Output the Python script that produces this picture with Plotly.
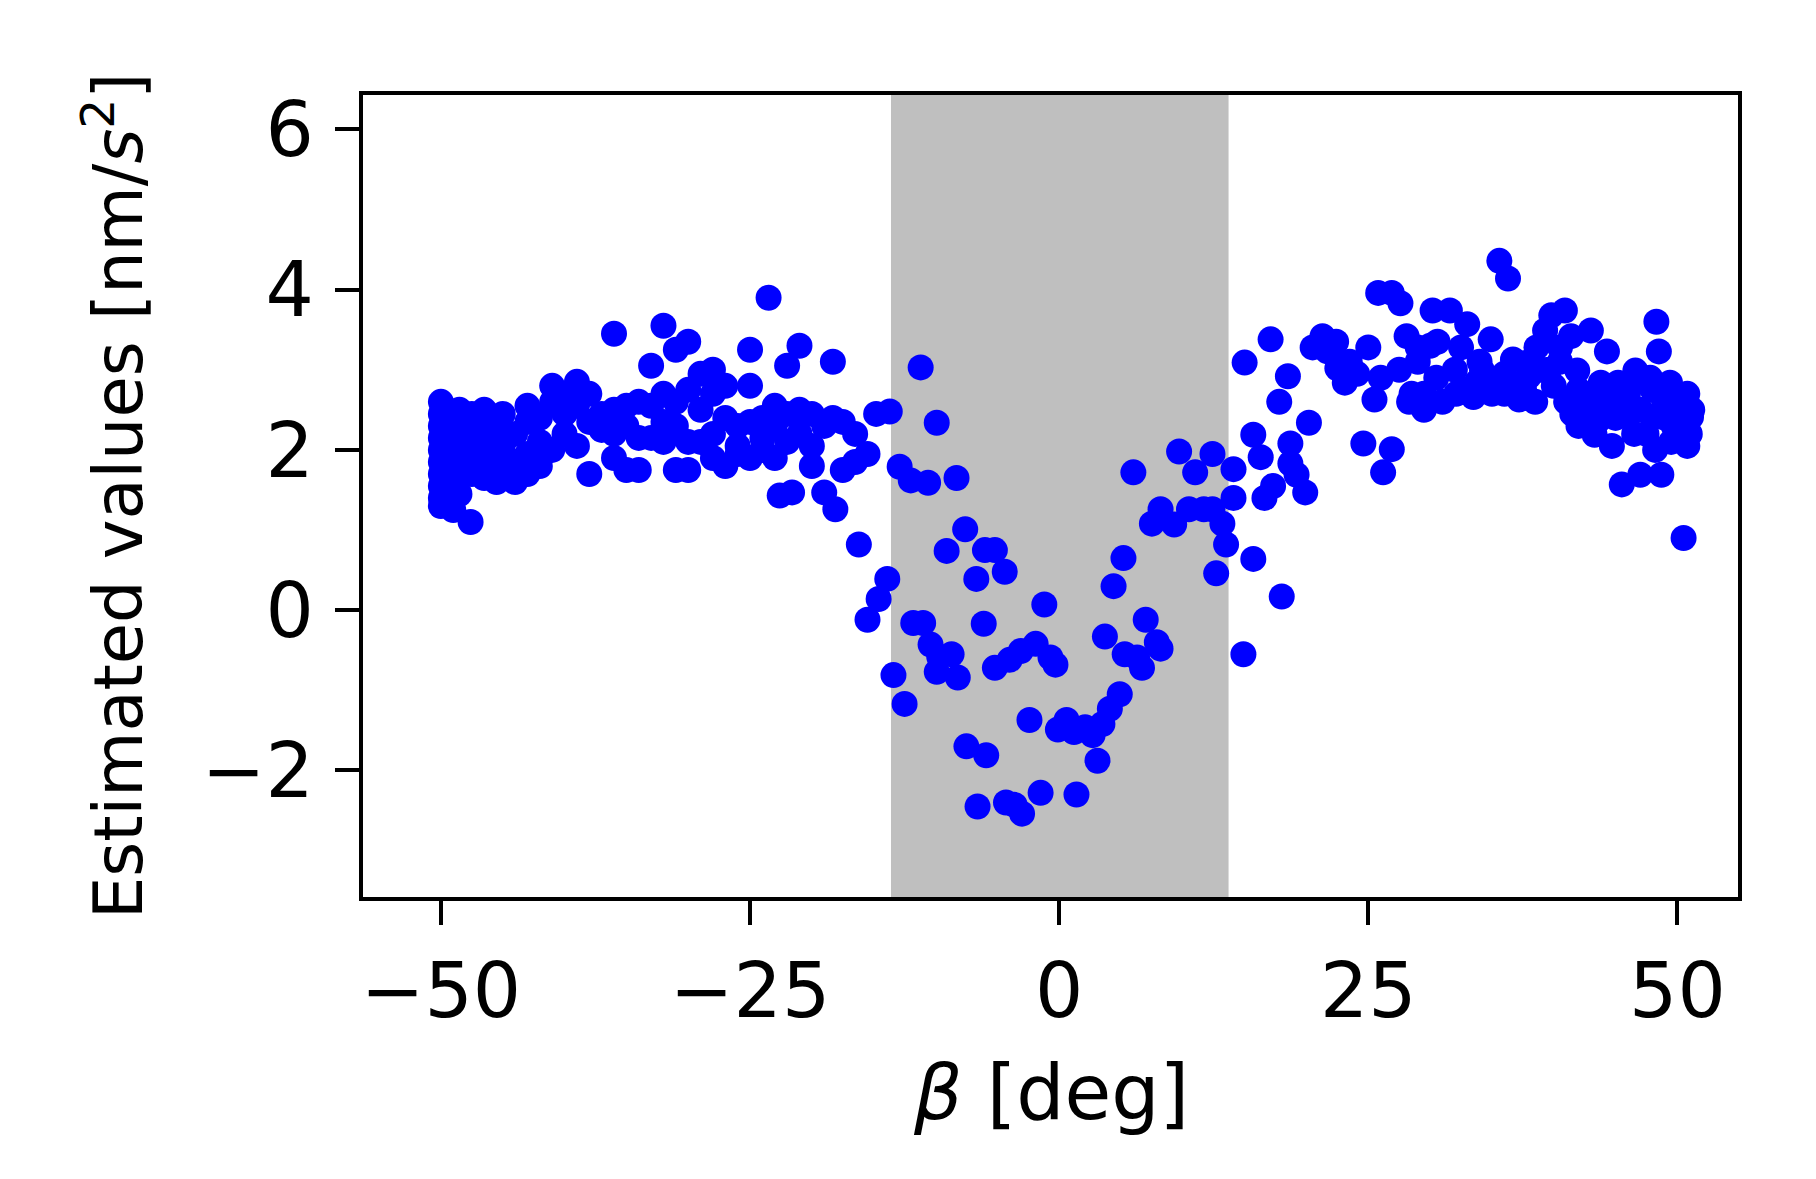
import plotly.graph_objects as go

# ---- data ----
beta_left = [
    -50, -50, -50, -50, -50, -50, -50, -50, -50, -50,
    -49.5, -49.5, -49.5, -49.5, -49.5,
    -49, -49, -49, -49, -49,
    -48.5, -48.5, -48.5, -48.5, -48.5,
    -48, -48, -48, -47.6,
    -47.5, -47.5, -47.5, -47.5,
    -47, -47, -47,
    -46.5, -46.5, -46.5, -46.5,
    -46, -46, -46,
    -45.5, -45.5, -45.5,
    -45, -45, -45,
    -44, -44, -44,
    -43, -43, -43, -43,
    -42, -42, -42,
    -41, -41, -41,
    -40, -40, -40,
    -39, -39, -39,
    -38, -38, -38,
    -37, -37,
    -36, -36, -36, -36,
    -35, -35, -35,
    -34, -34, -34,
    -33, -33, -33,
    -32, -32, -32, -32,
    -31, -31, -31, -31,
    -30, -30, -30, -30,
    -29, -29, -29,
    -28, -28, -28, -28,
    -27, -27, -27,
    -26, -26, -26,
    -25, -25, -25, -25,
    -24, -24, -24,
    -23.5,
    -23, -23, -23, -22.6,
    -22, -22, -22, -21.6,
    -21, -21, -21,
    -20, -20, -20,
    -19, -19,
    -18.3, -18.3, -18.1,
    -17.5, -17.5,
    -16.5, -16.5,
    -16.2,
    -15.5, -15.5,
    -14.8,
]
val_left = [
    2.6, 2.45, 2.3, 2.15, 2.0, 1.85, 1.7, 1.55, 1.4, 1.3,
    2.5, 2.2, 1.9, 1.6, 1.35,
    2.4, 2.1, 1.8, 1.5, 1.25,
    2.5, 2.25, 2.0, 1.75, 1.45,
    2.35, 2.1, 1.85, 1.1,
    2.45, 2.2, 1.95, 1.7,
    2.3, 2.05, 1.8,
    2.5, 2.15, 1.9, 1.65,
    2.35, 2.0, 1.75,
    2.2, 1.85, 1.6,
    2.45, 2.05, 1.7,
    2.2, 1.85, 1.6,
    2.55, 2.35, 1.95, 1.7,
    2.4, 2.1, 1.8,
    2.8, 2.6, 2.0,
    2.7, 2.45, 2.2,
    2.85, 2.55, 2.05,
    2.7, 2.35, 1.7,
    2.45, 2.25,
    3.45, 2.5, 2.2, 1.9,
    2.55, 2.3, 1.75,
    2.6, 2.15, 1.75,
    3.05, 2.55, 2.15,
    3.55, 2.7, 2.35, 2.1,
    3.25, 2.6, 2.3, 1.75,
    3.35, 2.75, 2.1, 1.75,
    2.95, 2.5, 2.1,
    3.0, 2.7, 2.2, 1.9,
    2.8, 2.4, 1.8,
    2.3, 2.05, 1.95,
    3.25, 2.8, 2.35, 1.9,
    2.4, 2.15, 2.0,
    3.9,
    2.55, 2.3, 1.9, 1.43,
    3.05, 2.45, 2.1, 1.47,
    3.3, 2.5, 2.2,
    2.45, 2.05, 1.8,
    2.3, 1.47,
    3.1, 2.4, 1.26,
    2.35, 1.75,
    2.2, 1.85,
    0.82,
    1.95, -0.12,
    2.45,
]

beta_mid = [
    -13.7, -12.9, -12.0, -11.2, -10.6, -9.9, -8.3, -7.6, -9.1, -6.0,
    -5.2, -4.4, -6.7, -13.9, -14.6, -11.8, -11.0, -6.1, -1.2, -13.4,
    -12.5, -10.4, -9.7, -8.7, -9.9, -8.2, -5.2, -4.0, -3.1, -1.9,
    -0.7, -0.3, -2.4, -7.5, -5.9, -6.6, -4.3, -3.6, -3.0, -1.5,
    -0.1, 0.6, 1.2, 2.1, 2.7, 3.1, 3.5, 4.1, 4.9, 1.4,
    3.7, 4.4, 5.2, 6.0, 5.3, 6.3, 7.0, 6.7, 7.9, 8.2,
    7.5, 8.2, 9.3, 9.7, 10.5, 11.0, 11.7, 12.4, 12.4, 12.7,
    13.2, 13.5, 14.1, 14.1,
]
val_mid = [
    2.48, 1.79, 1.62, 3.03, 1.59, 2.34, 1.65, 1.01, 0.74, 0.75,
    0.75, 0.48, 0.39, 0.39, 0.14, -0.16, -0.16, -0.17, 0.07, -0.81,
    -1.17, -0.43, -0.58, -0.55, -0.77, -0.84, -0.72, -0.62, -0.51, -0.42,
    -0.59, -0.68, -1.37, -1.70, -1.81, -2.45, -2.40, -2.43, -2.54, -2.28,
    -1.49, -1.37, -1.52, -1.46, -1.56, -1.88, -1.42, -1.23, -1.05, -2.30,
    -0.33, 0.30, 0.65, 1.72, -0.55, -0.59, -0.12, -0.72, -0.40, -0.48,
    1.08, 1.26, 1.07, 1.98, 1.26, 1.72, 1.26, 1.95, 1.26, 0.46,
    1.08, 0.82, 1.76, 1.40,
]

beta_right = [
    15.0, 14.9, 15.7, 15.7, 16.3, 16.6, 17.1, 17.3, 17.8, 18.0,
    18.5, 18.7, 18.7, 19.2, 19.9, 20.2, 20.5, 21.3, 21.7, 22.4,
    22.5, 23.1, 24.1, 25.0, 24.6, 25.5, 25.8, 26.2, 26.9, 26.9,
    27.6, 28.1, 28.3, 29.0, 29.5, 30.2, 30.6, 31.6, 32.1, 32.5,
    33.0, 33.5, 34.2, 34.9, 35.6, 36.3, 36.0, 36.7, 37.2, 38.0,
    38.6, 39.3, 39.8, 40.5, 40.9, 41.4, 41.9, 42.4, 43.0, 43.3,
    43.8, 44.3, 44.7, 45.2, 45.5, 46.1, 46.6, 47.0, 47.5, 48.0,
    48.3, 48.5, 48.7, 48.9, 49.4, 49.9, 50.3, 50.5, 50.8, 51.1,
    29.5, 30.5, 31.0, 32.0, 33.0, 34.0, 35.0, 36.0, 37.0, 38.0,
    38.5, 39.0, 40.0, 40.5, 41.0, 42.0, 43.0, 44.0, 45.0, 46.0,
    47.0, 47.5, 48.0, 49.0, 49.5, 50.0, 50.5, 51.0, 50.8, 46.5,
    44.5, 43.5, 42.0, 41.5, 27.5, 28.5, 29.0, 30.0, 26.0, 23.5,
    21.0, 33.8, 35.4, 37.6, 39.6, 45.8, 47.8, 49.7, 51.2, 48.2,
]
val_right = [
    3.09, -0.55, 2.19, 0.64, 1.91, 1.40, 3.38, 1.55, 2.60, 0.17,
    2.92, 2.08, 1.83, 1.69, 1.47, 2.34, 3.28, 3.42, 3.23, 3.35,
    3.02, 2.84, 2.95, 3.28, 2.08, 2.63, 3.96, 1.72, 2.01, 3.96,
    3.83, 3.42, 2.60, 3.28, 2.70, 3.74, 3.35, 3.74, 2.70, 3.28,
    3.57, 2.66, 2.99, 3.38, 4.36, 4.14, 2.70, 3.13, 2.63, 2.92,
    3.28, 3.49, 3.68, 3.28, 3.74, 3.42, 2.99, 2.63, 3.49, 2.19,
    2.84, 3.23, 2.05, 2.84, 1.57, 2.48, 2.99, 1.69, 2.84, 2.41,
    3.60, 3.23, 1.69, 2.63, 2.84, 2.19, 2.63, 0.90, 2.05, 2.41,
    2.5, 2.9, 2.6, 3.0, 2.75, 3.1, 2.7, 2.95, 2.8, 3.1,
    2.6, 3.0, 2.8, 3.1, 2.6, 2.75, 2.5, 2.7, 2.4, 2.7,
    2.5, 2.2, 2.75, 2.4, 2.1, 2.4, 2.25, 2.2, 2.7, 2.2,
    2.55, 2.35, 2.3, 2.45, 3.0, 2.7, 3.1, 3.3, 2.9, 3.1,
    3.3, 2.85, 2.8, 2.75, 3.0, 2.6, 2.9, 2.3, 2.5, 2.0,
]

band_lo, band_hi = -13.6, 13.7
x_ticks = [-50, -25, 0, 25, 50]
y_ticks = [-2, 0, 2, 4, 6]
x_title = "<i>β</i> [deg]"
y_title = "Estimated values [nm/<i>s</i><sup>2</sup>]"

beta = beta_left + beta_mid + beta_right
vals = val_left + val_mid + val_right

FONT = "DejaVu Sans"

fig = go.Figure()
fig.add_vrect(x0=band_lo, x1=band_hi, fillcolor="#bfbfbf", opacity=1,
              line_width=0, layer="below")
fig.add_trace(go.Scatter(
    x=beta, y=vals, mode="markers",
    marker=dict(color="#0000ff", size=26, line=dict(width=0)),
    showlegend=False, hoverinfo="skip",
))

axis_common = dict(
    showgrid=False, zeroline=False, showline=True, linecolor="black",
    linewidth=4, mirror=True, ticks="outside", ticklen=24, tickwidth=3.5,
    tickcolor="black", tickfont=dict(family=FONT, size=76, color="black"),
    automargin=False,
)
fig.update_xaxes(range=[-56.3, 54.9], tickvals=x_ticks, ticklabelstandoff=1,
                 **axis_common)
fig.update_yaxes(range=[-3.58, 6.43], tickvals=y_ticks, ticklabelstandoff=6,
                 **axis_common)

fig.add_annotation(text=y_title, xref="paper", yref="paper", x=-0.1811, y=0.5,
                   xanchor="center", yanchor="middle", textangle=-90,
                   showarrow=False, font=dict(family=FONT, size=67, color="black"))
fig.add_annotation(text=x_title, xref="paper", yref="paper", x=0.5, y=-0.2436,
                   xanchor="center", yanchor="middle",
                   showarrow=False, font=dict(family=FONT, size=76, color="black"))

fig.update_layout(
    width=1816, height=1179,
    margin=dict(l=355, r=86, t=87, b=290),
    plot_bgcolor="white", paper_bgcolor="white",
    font=dict(family=FONT, color="black"),
)

fig.write_html("out.html")
